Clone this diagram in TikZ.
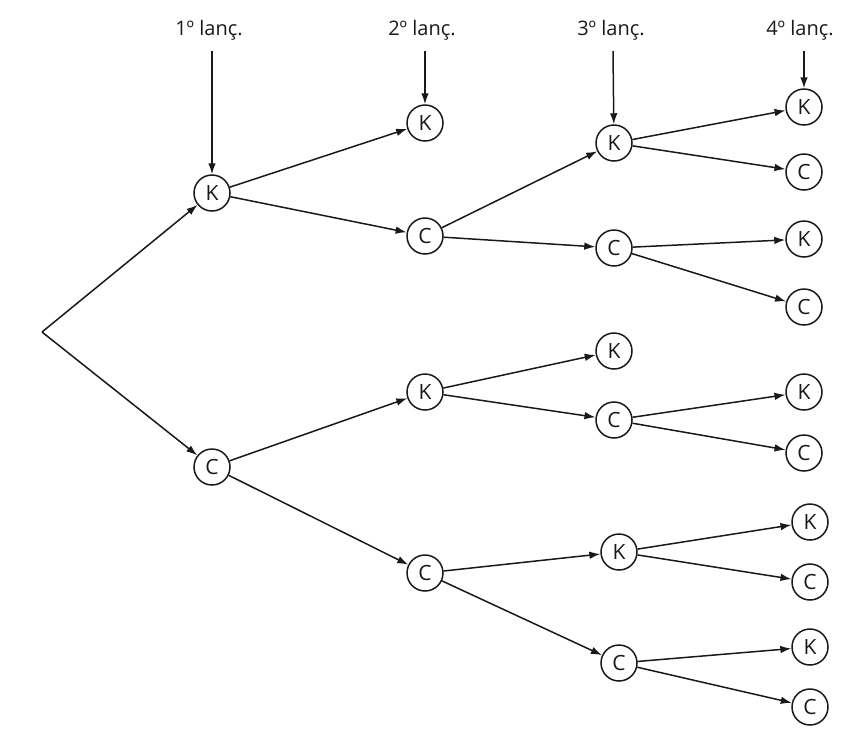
\documentclass[tikz,border=0pt]{standalone}
\usepackage{fontspec}
\setmainfont{Open Sans}
\usepackage{tikz}
\usetikzlibrary{arrows.meta}

\tikzset{
    coin/.style={draw, circle, minimum size=18pt, inner sep=0pt, line width=0.75pt, font=\fontsize{10.5}{12}\selectfont},
    throw/.style={font=\fontsize{10}{12}\selectfont},
    arr/.style={-{Latex[length=5.5pt, width=3.8pt]}, line width=0.75pt}
}

\begin{document}
\begin{tikzpicture}[x=0.5pt, y=-0.5pt, color={black!90}]
    \useasboundingbox (0, 0) rectangle (862, 736);
    % headings
    \node[throw] (l1) at (209, 30) {1º lanç.};
    \node[throw] (l2) at (422, 30) {2º lanç.};
    \node[throw] (l3) at (611, 30) {3º lanç.};
    \node[throw] (l4) at (800, 30) {4º lanç.};
    \coordinate (t1) at (212, 51);
    \coordinate (t2) at (425, 51);
    \coordinate (t3) at (613, 51);
    \coordinate (t4) at (804, 51);
    % tree
    \coordinate (root) at (42, 332);
    \node[coin] (K) at (212, 193) {K};
    \node[coin] (C) at (212, 467) {C};
    \node[coin] (KK) at (425, 123) {K};
    \node[coin] (KC) at (425, 236) {C};
    \node[coin] (CK) at (425, 392) {K};
    \node[coin] (CC) at (425, 573) {C};
    \node[coin] (KCK) at (614, 143) {K};
    \node[coin] (KCC) at (614, 248) {C};
    \node[coin] (CKK) at (614, 351) {K};
    \node[coin] (CKC) at (614, 420) {C};
    \node[coin] (CCK) at (619, 552) {K};
    \node[coin] (CCC) at (619, 663) {C};
    \node[coin] (KCKK) at (804, 107) {K};
    \node[coin] (KCKC) at (804, 172) {C};
    \node[coin] (KCCK) at (804, 239) {K};
    \node[coin] (KCCC) at (804, 307) {C};
    \node[coin] (CKCK) at (804, 392) {K};
    \node[coin] (CKCC) at (804, 453) {C};
    \node[coin] (CCKK) at (810, 522) {K};
    \node[coin] (CCKC) at (810, 582) {C};
    \node[coin] (CCCK) at (810, 647) {K};
    \node[coin] (CCCC) at (810, 707) {C};
    \draw[arr] (t1) -- (K);
    \draw[arr] (t2) -- (KK);
    \draw[arr] (t3) -- (KCK);
    \draw[arr] (t4) -- (KCKK);
    \draw[arr] (root) -- (K);
    \draw[arr] (root) -- (C);
    \draw[arr] (K) -- (KK);
    \draw[arr] (K) -- (KC);
    \draw[arr] (C) -- (CK);
    \draw[arr] (C) -- (CC);
    \draw[arr] (KC) -- (KCK);
    \draw[arr] (KC) -- (KCC);
    \draw[arr] (CK) -- (CKK);
    \draw[arr] (CK) -- (CKC);
    \draw[arr] (CC) -- (CCK);
    \draw[arr] (CC) -- (CCC);
    \draw[arr] (KCK) -- (KCKK);
    \draw[arr] (KCK) -- (KCKC);
    \draw[arr] (KCC) -- (KCCK);
    \draw[arr] (KCC) -- (KCCC);
    \draw[arr] (CKC) -- (CKCK);
    \draw[arr] (CKC) -- (CKCC);
    \draw[arr] (CCK) -- (CCKK);
    \draw[arr] (CCK) -- (CCKC);
    \draw[arr] (CCC) -- (CCCK);
    \draw[arr] (CCC) -- (CCCC);
\end{tikzpicture}
\end{document}
